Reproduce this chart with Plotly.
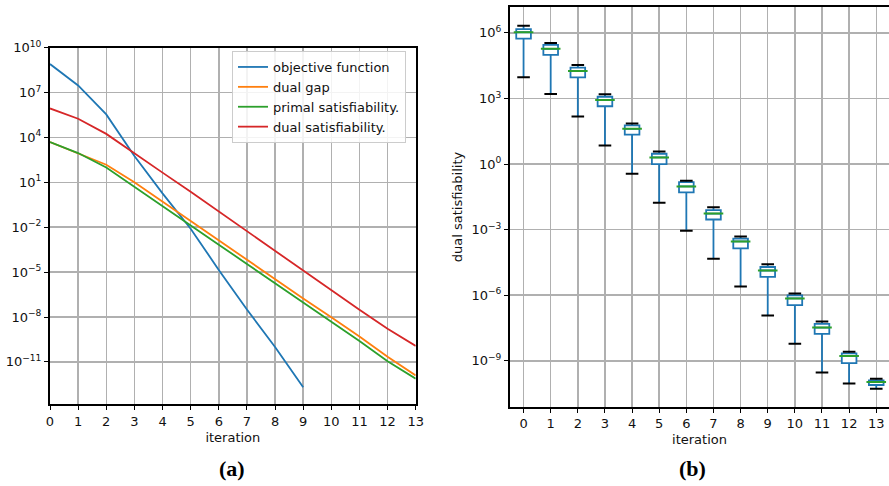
import plotly.graph_objects as go

# ---------------- data: left panel (a) ----------------
iterations = list(range(14))
objective_function = [7.9e8, 2.9e7, 3.4e5, 5.6e2, 1.8, 7.9e-3, 1.4e-5, 3.2e-8, 1.0e-10, 2.0e-13]
dual_gap = [4.9e3, 8.9e2, 1.48e2, 1.0e1, 5.0e-1, 2.5e-2, 1.26e-3, 6.6e-5, 3.5e-6, 1.74e-7,
            9.5e-9, 5.0e-10, 2.2e-11, 1.26e-12]
primal_satisfiability = [4.9e3, 8.9e2, 9.8e1, 5.2, 2.6e-1, 1.3e-2, 6.8e-4, 3.5e-5, 1.8e-6, 9.3e-8,
                         4.9e-9, 2.5e-10, 1.12e-11, 7.6e-13]
dual_satisfiability = [8.5e5, 1.74e5, 1.7e4, 8.3e2, 4.4e1, 2.3, 1.12e-1, 5.1e-3, 2.75e-4, 1.35e-5,
                       6.5e-7, 3.0e-8, 1.66e-9, 1.17e-10]
series_names = ["objective function", "dual gap", "primal satisfiability.", "dual satisfiability."]
left_ytick_vals = [1e10, 1e7, 1e4, 1e1, 1e-2, 1e-5, 1e-8, 1e-11]
left_ytick_text = ["10<sup>10</sup>", "10<sup>7</sup>", "10<sup>4</sup>", "10<sup>1</sup>",
                   "10<sup>\u22122</sup>", "10<sup>\u22125</sup>", "10<sup>\u22128</sup>",
                   "10<sup>\u221211</sup>"]

# ---------------- data: right panel (b) box plot ----------------
box_positions = list(range(14))
box_upper = [2.1e6, 3.4e5, 3.4e4, 1.55e3, 7.2e1, 3.7, 1.74e-1, 1.05e-2, 4.9e-4, 2.6e-5, 1.2e-6,
             6.3e-8, 2.6e-9, 1.5e-10]
box_q3 = [1.5e6, 2.8e5, 2.6e4, 1.2e3, 5.9e1, 2.95, 1.48e-1, 7.8e-3, 3.9e-4, 1.95e-5, 9.8e-7,
          4.9e-8, 2.2e-9, 1.26e-10]
box_median = [1.07e6, 1.86e5, 1.8e4, 8.5e2, 4.1e1, 2.0, 9.5e-2, 5.4e-3, 2.9e-4, 1.35e-5, 7.1e-7,
              3.3e-8, 1.66e-9, 1.07e-10]
box_q1 = [5.5e5, 9.8e4, 9.3e3, 4.4e2, 2.2e1, 1.0, 5.1e-2, 2.9e-3, 1.38e-4, 6.9e-6, 3.5e-7,
          1.7e-8, 7.9e-10, 7.8e-11]
box_lower = [9.3e3, 1.6e3, 1.5e2, 7.1, 3.6e-1, 1.7e-2, 8.9e-4, 4.7e-5, 2.5e-6, 1.17e-7, 6.0e-9,
             2.9e-10, 9.1e-11, 5.2e-11]
right_ytick_vals = [1e6, 1e3, 1e0, 1e-3, 1e-6, 1e-9]
right_ytick_text = ["10<sup>6</sup>", "10<sup>3</sup>", "10<sup>0</sup>", "10<sup>\u22123</sup>",
                    "10<sup>\u22126</sup>", "10<sup>\u22129</sup>"]

colors = ["#1f77b4", "#ff7f0e", "#2ca02c", "#d62728"]
W, H = 889, 486
FONT = "DejaVu Sans, Liberation Sans, sans-serif"

fig = go.Figure()

all_series = [objective_function, dual_gap, primal_satisfiability, dual_satisfiability]
for name, vals, c in zip(series_names, all_series, colors):
    fig.add_trace(go.Scatter(x=iterations[:len(vals)], y=vals, mode="lines", name=name,
                             line=dict(color=c, width=1.8), xaxis="x", yaxis="y"))

fig.add_trace(go.Box(x=box_positions, q1=box_q1, median=box_median, q3=box_q3,
                     lowerfence=box_lower, upperfence=box_upper, width=0.54,
                     whiskerwidth=0, boxpoints=False, fillcolor="white",
                     line=dict(color="#1f77b4", width=1.8), showlegend=False,
                     xaxis="x2", yaxis="y2"))
fig.add_trace(go.Scatter(x=box_positions, y=box_median, mode="markers", showlegend=False,
                         marker=dict(symbol="line-ew", size=14,
                                     line=dict(width=2, color="#2ca02c")),
                         xaxis="x2", yaxis="y2"))
fig.add_trace(go.Scatter(x=box_positions + box_positions, y=box_upper + box_lower,
                         mode="markers", showlegend=False,
                         marker=dict(symbol="line-ew", size=9,
                                     line=dict(width=2, color="black")),
                         xaxis="x2", yaxis="y2"))

axis_common = dict(showline=True, linecolor="black", linewidth=2, ticks="outside",
                   ticklen=4, tickwidth=1, tickcolor="black", showgrid=True,
                   gridcolor="#b0b0b0", gridwidth=1.5, zeroline=False, automargin=False,
                   tickfont=dict(family=FONT, size=13, color="#111111"))

fig.update_layout(
    width=W, height=H, margin=dict(l=0, r=0, t=0, b=0, autoexpand=False),
    paper_bgcolor="white", plot_bgcolor="white",
    font=dict(family=FONT, size=13, color="#111111"),
    xaxis=dict(domain=[50 / W, 415.7 / W], range=[0, 13], tickvals=iterations,
               mirror=True, anchor="y",
               title=dict(text="iteration", standoff=5, font=dict(size=13)), **axis_common),
    yaxis=dict(domain=[1 - 404 / H, 1 - 47.5 / H], type="log", range=[-13.81, 10.0],
               tickvals=left_ytick_vals, ticktext=left_ytick_text, mirror=True, anchor="x",
               **axis_common),
    xaxis2=dict(domain=[510 / W, 1.0], range=[-0.5, 13.47], tickvals=box_positions,
                mirror=True, anchor="y2",
                title=dict(text="iteration", standoff=5, font=dict(size=13)), **axis_common),
    yaxis2=dict(domain=[1 - 406.7 / H, 1 - 7.3 / H], type="log", range=[-11.1, 7.17],
                tickvals=right_ytick_vals, ticktext=right_ytick_text, mirror=False,
                anchor="x2",
                title=dict(text="dual satisfiability", standoff=6, font=dict(size=13)),
                **axis_common),
    legend=dict(x=232 / W, y=1 - 51 / H, xanchor="left", yanchor="top",
                bgcolor="rgba(255,255,255,0.85)", bordercolor="#cccccc", borderwidth=1,
                font=dict(family=FONT, size=13, color="#111111"), itemwidth=30,
                tracegroupgap=0),
    showlegend=True,
    annotations=[
        dict(text="<b>(a)</b>", x=231.7 / W, y=1 - 468.7 / H, xref="paper", yref="paper",
             showarrow=False, xanchor="center", yanchor="middle",
             font=dict(family="Liberation Serif, Times New Roman, serif", size=22,
                       color="black")),
        dict(text="<b>(b)</b>", x=692.5 / W, y=1 - 468.7 / H, xref="paper", yref="paper",
             showarrow=False, xanchor="center", yanchor="middle",
             font=dict(family="Liberation Serif, Times New Roman, serif", size=22,
                       color="black")),
    ],
)

fig.write_html("out.html", config={"displayModeBar": False, "staticPlot": True},
               post_script="document.body.style.margin='0';document.body.style.overflow='hidden';")
